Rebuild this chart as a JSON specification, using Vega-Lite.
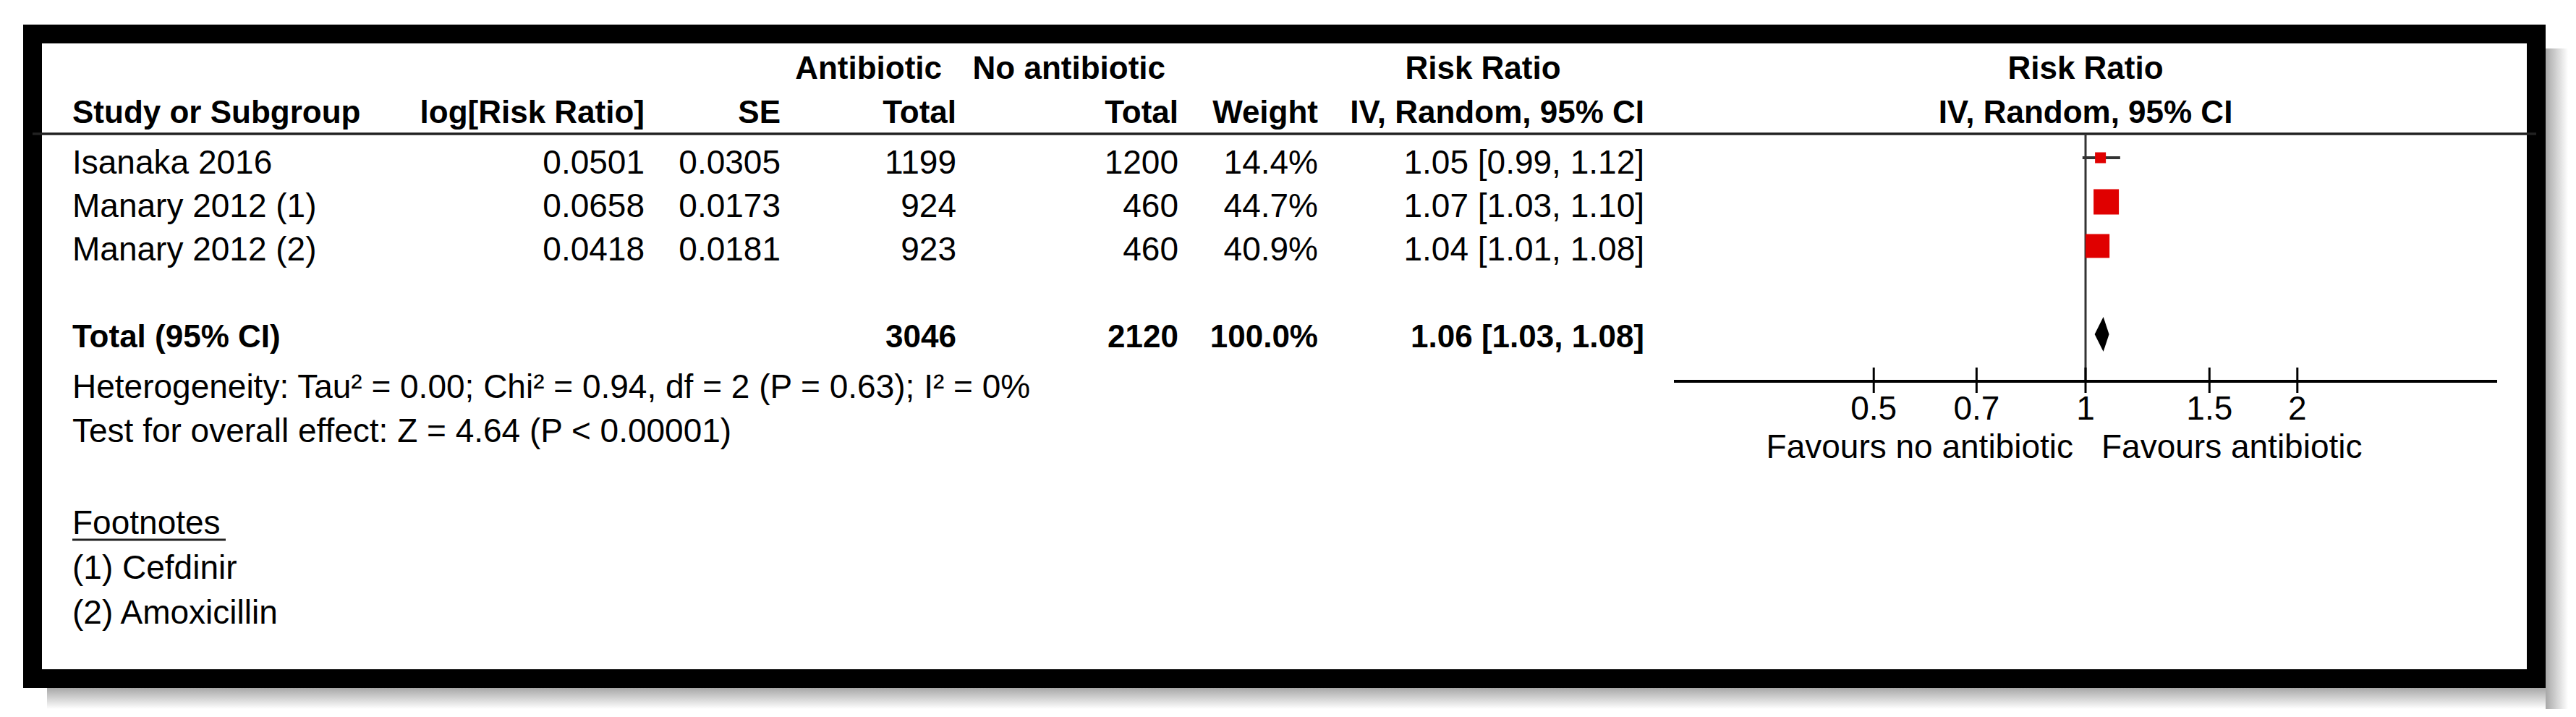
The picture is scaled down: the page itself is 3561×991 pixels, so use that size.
{
  "$schema": "https://vega.github.io/schema/vega-lite/v6.json",
  "width": 3461,
  "height": 891,
  "autosize": {"type": "none"},
  "padding": {"left": 45, "top": 47, "right": 55, "bottom": 53},
  "background": "white",
  "config": {
    "view": {"stroke": "black", "strokeWidth": 26},
    "font": "Liberation Sans",
    "text": {"font": "Liberation Sans", "fontSize": 46, "baseline": "alphabetic", "color": "black"}
  },
  "datasets": {
    "studies": [
      {"study": "Isanaka 2016", "log_rr": 0.0501, "se": 0.0305, "ab_total": 1199, "noab_total": 1200, "weight": 0.144, "rr": 1.05, "lo": 0.99, "hi": 1.12, "rr_ci": "1.05 [0.99, 1.12]"},
      {"study": "Manary 2012 (1)", "log_rr": 0.0658, "se": 0.0173, "ab_total": 924, "noab_total": 460, "weight": 0.447, "rr": 1.07, "lo": 1.03, "hi": 1.10, "rr_ci": "1.07 [1.03, 1.10]"},
      {"study": "Manary 2012 (2)", "log_rr": 0.0418, "se": 0.0181, "ab_total": 923, "noab_total": 460, "weight": 0.409, "rr": 1.04, "lo": 1.01, "hi": 1.08, "rr_ci": "1.04 [1.01, 1.08]"}
    ],
    "overall": [
      {"label": "Total (95% CI)", "ab_total": 3046, "noab_total": 2120, "weight": 1.0, "rr": 1.06, "lo": 1.03, "hi": 1.08, "rr_ci": "1.06 [1.03, 1.08]",
       "heterogeneity": "Heterogeneity: Tau² = 0.00; Chi² = 0.94, df = 2 (P = 0.63); I² = 0%",
       "overall_effect": "Test for overall effect: Z = 4.64 (P < 0.00001)"}
    ],
    "footnotes": [{"note": "(1) Cefdinir"}, {"note": "(2) Amoxicillin"}],
    "ticks": [{"value": 0.5}, {"value": 0.7}, {"value": 1}, {"value": 1.5}, {"value": 2}],
    "one": [{}]
  },
  "resolve": {"scale": {"x": "independent", "y": "independent", "size": "independent"}},
  "layer": [
    {"data": {"name": "one"}, "mark": {"type": "rect", "color": {"gradient": "linear", "x1": 0, "x2": 1, "y1": 0, "y2": 0, "stops": [{"offset": 0, "color": "#a8a8a8"}, {"offset": 1, "color": "#ffffff"}]}},
     "encoding": {"x": {"datum": 2, "type": "quantitative", "axis": null, "scale": {"type": "linear", "domain": [1,2,3], "range": [20,3474,3505], "nice": false, "zero": false}},
                  "x2": {"datum": 3},
                  "y": {"datum": 1, "type": "quantitative", "axis": null, "scale": {"type": "linear", "domain": [1,2,3], "range": [20,904,933], "nice": false, "zero": false}},
                  "y2": {"datum": 3}}},
    {"data": {"name": "one"}, "mark": {"type": "rect", "color": {"gradient": "linear", "x1": 0, "x2": 0, "y1": 0, "y2": 1, "stops": [{"offset": 0, "color": "#a8a8a8"}, {"offset": 1, "color": "#ffffff"}]}},
     "encoding": {"x": {"datum": 1, "type": "quantitative", "axis": null, "scale": {"type": "linear", "domain": [1,2,3], "range": [20,3474,3505], "nice": false, "zero": false}},
                  "x2": {"datum": 2},
                  "y": {"datum": 2, "type": "quantitative", "axis": null, "scale": {"type": "linear", "domain": [1,2,3], "range": [20,904,933], "nice": false, "zero": false}},
                  "y2": {"datum": 3}}},

    {"data": {"name": "one"}, "mark": {"type": "text", "text": "Antibiotic", "fontWeight": "bold", "fontSize": 44, "align": "right"},
     "encoding": {"x": {"datum": 5, "type": "quantitative", "axis": null, "scale": {"type": "linear", "domain": [1,2,3,4,5,6,7,8,9,10,11], "range": [55,267,846,1034,1257,1277,1566,1584,1777,2005,2228], "nice": false, "zero": false}},
                  "y": {"datum": 1, "type": "quantitative", "axis": null, "scale": {"type": "linear", "domain": [1,2,3,4,5,6,7,8,9,10,11,12], "range": [62,123,138,461,480,496,503,533,564,586,691,699], "nice": false, "zero": false}}}},
    {"data": {"name": "one"}, "mark": {"type": "text", "text": "No antibiotic", "fontWeight": "bold", "fontSize": 44, "align": "right"},
     "encoding": {"x": {"datum": 7, "type": "quantitative", "axis": null, "scale": {"type": "linear", "domain": [1,2,3,4,5,6,7,8,9,10,11], "range": [55,267,846,1034,1257,1277,1566,1584,1777,2005,2228], "nice": false, "zero": false}},
                  "y": {"datum": 1, "type": "quantitative", "axis": null, "scale": {"type": "linear", "domain": [1,2,3,4,5,6,7,8,9,10,11,12], "range": [62,123,138,461,480,496,503,533,564,586,691,699], "nice": false, "zero": false}}}},
    {"data": {"name": "one"}, "mark": {"type": "text", "text": "Risk Ratio", "fontWeight": "bold", "fontSize": 44, "align": "center"},
     "encoding": {"x": {"datum": 10, "type": "quantitative", "axis": null, "scale": {"type": "linear", "domain": [1,2,3,4,5,6,7,8,9,10,11], "range": [55,267,846,1034,1257,1277,1566,1584,1777,2005,2228], "nice": false, "zero": false}},
                  "y": {"datum": 1, "type": "quantitative", "axis": null, "scale": {"type": "linear", "domain": [1,2,3,4,5,6,7,8,9,10,11,12], "range": [62,123,138,461,480,496,503,533,564,586,691,699], "nice": false, "zero": false}}}},
    {"data": {"name": "one"}, "mark": {"type": "text", "text": "Study or Subgroup", "fontWeight": "bold", "fontSize": 44, "align": "left"},
     "encoding": {"x": {"datum": 1, "type": "quantitative", "axis": null, "scale": {"type": "linear", "domain": [1,2,3,4,5,6,7,8,9,10,11], "range": [55,267,846,1034,1257,1277,1566,1584,1777,2005,2228], "nice": false, "zero": false}},
                  "y": {"datum": 2, "type": "quantitative", "axis": null, "scale": {"type": "linear", "domain": [1,2,3,4,5,6,7,8,9,10,11,12], "range": [62,123,138,461,480,496,503,533,564,586,691,699], "nice": false, "zero": false}}}},
    {"data": {"name": "one"}, "mark": {"type": "text", "text": "log[Risk Ratio]", "fontWeight": "bold", "fontSize": 44, "align": "right"},
     "encoding": {"x": {"datum": 3, "type": "quantitative", "axis": null, "scale": {"type": "linear", "domain": [1,2,3,4,5,6,7,8,9,10,11], "range": [55,267,846,1034,1257,1277,1566,1584,1777,2005,2228], "nice": false, "zero": false}},
                  "y": {"datum": 2, "type": "quantitative", "axis": null, "scale": {"type": "linear", "domain": [1,2,3,4,5,6,7,8,9,10,11,12], "range": [62,123,138,461,480,496,503,533,564,586,691,699], "nice": false, "zero": false}}}},
    {"data": {"name": "one"}, "mark": {"type": "text", "text": "SE", "fontWeight": "bold", "fontSize": 44, "align": "right"},
     "encoding": {"x": {"datum": 4, "type": "quantitative", "axis": null, "scale": {"type": "linear", "domain": [1,2,3,4,5,6,7,8,9,10,11], "range": [55,267,846,1034,1257,1277,1566,1584,1777,2005,2228], "nice": false, "zero": false}},
                  "y": {"datum": 2, "type": "quantitative", "axis": null, "scale": {"type": "linear", "domain": [1,2,3,4,5,6,7,8,9,10,11,12], "range": [62,123,138,461,480,496,503,533,564,586,691,699], "nice": false, "zero": false}}}},
    {"data": {"name": "one"}, "mark": {"type": "text", "text": "Total", "fontWeight": "bold", "fontSize": 44, "align": "right"},
     "encoding": {"x": {"datum": 6, "type": "quantitative", "axis": null, "scale": {"type": "linear", "domain": [1,2,3,4,5,6,7,8,9,10,11], "range": [55,267,846,1034,1257,1277,1566,1584,1777,2005,2228], "nice": false, "zero": false}},
                  "y": {"datum": 2, "type": "quantitative", "axis": null, "scale": {"type": "linear", "domain": [1,2,3,4,5,6,7,8,9,10,11,12], "range": [62,123,138,461,480,496,503,533,564,586,691,699], "nice": false, "zero": false}}}},
    {"data": {"name": "one"}, "mark": {"type": "text", "text": "Total", "fontWeight": "bold", "fontSize": 44, "align": "right"},
     "encoding": {"x": {"datum": 8, "type": "quantitative", "axis": null, "scale": {"type": "linear", "domain": [1,2,3,4,5,6,7,8,9,10,11], "range": [55,267,846,1034,1257,1277,1566,1584,1777,2005,2228], "nice": false, "zero": false}},
                  "y": {"datum": 2, "type": "quantitative", "axis": null, "scale": {"type": "linear", "domain": [1,2,3,4,5,6,7,8,9,10,11,12], "range": [62,123,138,461,480,496,503,533,564,586,691,699], "nice": false, "zero": false}}}},
    {"data": {"name": "one"}, "mark": {"type": "text", "text": "Weight", "fontWeight": "bold", "fontSize": 44, "align": "right"},
     "encoding": {"x": {"datum": 9, "type": "quantitative", "axis": null, "scale": {"type": "linear", "domain": [1,2,3,4,5,6,7,8,9,10,11], "range": [55,267,846,1034,1257,1277,1566,1584,1777,2005,2228], "nice": false, "zero": false}},
                  "y": {"datum": 2, "type": "quantitative", "axis": null, "scale": {"type": "linear", "domain": [1,2,3,4,5,6,7,8,9,10,11,12], "range": [62,123,138,461,480,496,503,533,564,586,691,699], "nice": false, "zero": false}}}},
    {"data": {"name": "one"}, "mark": {"type": "text", "text": "IV, Random, 95% CI", "fontWeight": "bold", "fontSize": 44, "align": "right"},
     "encoding": {"x": {"datum": 11, "type": "quantitative", "axis": null, "scale": {"type": "linear", "domain": [1,2,3,4,5,6,7,8,9,10,11], "range": [55,267,846,1034,1257,1277,1566,1584,1777,2005,2228], "nice": false, "zero": false}},
                  "y": {"datum": 2, "type": "quantitative", "axis": null, "scale": {"type": "linear", "domain": [1,2,3,4,5,6,7,8,9,10,11,12], "range": [62,123,138,461,480,496,503,533,564,586,691,699], "nice": false, "zero": false}}}},
    {"data": {"name": "one"}, "mark": {"type": "text", "text": "Risk Ratio", "fontWeight": "bold", "fontSize": 44, "align": "center"},
     "encoding": {"x": {"datum": 1, "type": "quantitative", "axis": null, "scale": {"type": "log", "domain": [0.26, 3.846], "range": [2269, 3407], "nice": false}},
                  "y": {"datum": 1, "type": "quantitative", "axis": null, "scale": {"type": "linear", "domain": [1,2,3,4,5,6,7,8,9,10,11,12], "range": [62,123,138,461,480,496,503,533,564,586,691,699], "nice": false, "zero": false}}}},
    {"data": {"name": "one"}, "mark": {"type": "text", "text": "IV, Random, 95% CI", "fontWeight": "bold", "fontSize": 44, "align": "center"},
     "encoding": {"x": {"datum": 1, "type": "quantitative", "axis": null, "scale": {"type": "log", "domain": [0.26, 3.846], "range": [2269, 3407], "nice": false}},
                  "y": {"datum": 2, "type": "quantitative", "axis": null, "scale": {"type": "linear", "domain": [1,2,3,4,5,6,7,8,9,10,11,12], "range": [62,123,138,461,480,496,503,533,564,586,691,699], "nice": false, "zero": false}}}},
    {"data": {"name": "one"}, "mark": {"type": "rule", "color": "#222222", "strokeWidth": 3.5},
     "encoding": {"y": {"datum": 3, "type": "quantitative", "axis": null, "scale": {"type": "linear", "domain": [1,2,3,4,5,6,7,8,9,10,11,12], "range": [62,123,138,461,480,496,503,533,564,586,691,699], "nice": false, "zero": false}}}},

    {"data": {"name": "studies"}, "mark": {"type": "text", "align": "left"},
     "encoding": {"x": {"datum": 1, "type": "quantitative", "axis": null, "scale": {"type": "linear", "domain": [1,2,3,4,5,6,7,8,9,10,11], "range": [55,267,846,1034,1257,1277,1566,1584,1777,2005,2228], "nice": false, "zero": false}},
                  "y": {"field": "study", "type": "nominal", "axis": null, "scale": {"type": "point", "domain": ["Isanaka 2016", "Manary 2012 (1)", "Manary 2012 (2)", " ", "Total (95% CI)"], "range": [193, 433], "padding": 0}},
                  "text": {"field": "study", "type": "nominal"}}},
    {"data": {"name": "studies"}, "mark": {"type": "text", "align": "right"},
     "encoding": {"x": {"datum": 3, "type": "quantitative", "axis": null, "scale": {"type": "linear", "domain": [1,2,3,4,5,6,7,8,9,10,11], "range": [55,267,846,1034,1257,1277,1566,1584,1777,2005,2228], "nice": false, "zero": false}},
                  "y": {"field": "study", "type": "nominal", "axis": null, "scale": {"type": "point", "domain": ["Isanaka 2016", "Manary 2012 (1)", "Manary 2012 (2)", " ", "Total (95% CI)"], "range": [193, 433], "padding": 0}},
                  "text": {"field": "log_rr", "type": "quantitative", "format": ".4f"}}},
    {"data": {"name": "studies"}, "mark": {"type": "text", "align": "right"},
     "encoding": {"x": {"datum": 4, "type": "quantitative", "axis": null, "scale": {"type": "linear", "domain": [1,2,3,4,5,6,7,8,9,10,11], "range": [55,267,846,1034,1257,1277,1566,1584,1777,2005,2228], "nice": false, "zero": false}},
                  "y": {"field": "study", "type": "nominal", "axis": null, "scale": {"type": "point", "domain": ["Isanaka 2016", "Manary 2012 (1)", "Manary 2012 (2)", " ", "Total (95% CI)"], "range": [193, 433], "padding": 0}},
                  "text": {"field": "se", "type": "quantitative", "format": ".4f"}}},
    {"data": {"name": "studies"}, "mark": {"type": "text", "align": "right"},
     "encoding": {"x": {"datum": 6, "type": "quantitative", "axis": null, "scale": {"type": "linear", "domain": [1,2,3,4,5,6,7,8,9,10,11], "range": [55,267,846,1034,1257,1277,1566,1584,1777,2005,2228], "nice": false, "zero": false}},
                  "y": {"field": "study", "type": "nominal", "axis": null, "scale": {"type": "point", "domain": ["Isanaka 2016", "Manary 2012 (1)", "Manary 2012 (2)", " ", "Total (95% CI)"], "range": [193, 433], "padding": 0}},
                  "text": {"field": "ab_total", "type": "nominal"}}},
    {"data": {"name": "studies"}, "mark": {"type": "text", "align": "right"},
     "encoding": {"x": {"datum": 8, "type": "quantitative", "axis": null, "scale": {"type": "linear", "domain": [1,2,3,4,5,6,7,8,9,10,11], "range": [55,267,846,1034,1257,1277,1566,1584,1777,2005,2228], "nice": false, "zero": false}},
                  "y": {"field": "study", "type": "nominal", "axis": null, "scale": {"type": "point", "domain": ["Isanaka 2016", "Manary 2012 (1)", "Manary 2012 (2)", " ", "Total (95% CI)"], "range": [193, 433], "padding": 0}},
                  "text": {"field": "noab_total", "type": "nominal"}}},
    {"data": {"name": "studies"}, "mark": {"type": "text", "align": "right"},
     "encoding": {"x": {"datum": 9, "type": "quantitative", "axis": null, "scale": {"type": "linear", "domain": [1,2,3,4,5,6,7,8,9,10,11], "range": [55,267,846,1034,1257,1277,1566,1584,1777,2005,2228], "nice": false, "zero": false}},
                  "y": {"field": "study", "type": "nominal", "axis": null, "scale": {"type": "point", "domain": ["Isanaka 2016", "Manary 2012 (1)", "Manary 2012 (2)", " ", "Total (95% CI)"], "range": [193, 433], "padding": 0}},
                  "text": {"field": "weight", "type": "quantitative", "format": ".1%"}}},
    {"data": {"name": "studies"}, "mark": {"type": "text", "align": "right"},
     "encoding": {"x": {"datum": 11, "type": "quantitative", "axis": null, "scale": {"type": "linear", "domain": [1,2,3,4,5,6,7,8,9,10,11], "range": [55,267,846,1034,1257,1277,1566,1584,1777,2005,2228], "nice": false, "zero": false}},
                  "y": {"field": "study", "type": "nominal", "axis": null, "scale": {"type": "point", "domain": ["Isanaka 2016", "Manary 2012 (1)", "Manary 2012 (2)", " ", "Total (95% CI)"], "range": [193, 433], "padding": 0}},
                  "text": {"field": "rr_ci", "type": "nominal"}}},

    {"data": {"name": "overall"}, "mark": {"type": "text", "align": "left", "fontWeight": "bold", "fontSize": 44},
     "encoding": {"x": {"datum": 1, "type": "quantitative", "axis": null, "scale": {"type": "linear", "domain": [1,2,3,4,5,6,7,8,9,10,11], "range": [55,267,846,1034,1257,1277,1566,1584,1777,2005,2228], "nice": false, "zero": false}},
                  "y": {"field": "label", "type": "nominal", "axis": null, "scale": {"type": "point", "domain": ["Isanaka 2016", "Manary 2012 (1)", "Manary 2012 (2)", " ", "Total (95% CI)"], "range": [193, 433], "padding": 0}},
                  "text": {"field": "label", "type": "nominal"}}},
    {"data": {"name": "overall"}, "mark": {"type": "text", "align": "right", "fontWeight": "bold", "fontSize": 44},
     "encoding": {"x": {"datum": 6, "type": "quantitative", "axis": null, "scale": {"type": "linear", "domain": [1,2,3,4,5,6,7,8,9,10,11], "range": [55,267,846,1034,1257,1277,1566,1584,1777,2005,2228], "nice": false, "zero": false}},
                  "y": {"field": "label", "type": "nominal", "axis": null, "scale": {"type": "point", "domain": ["Isanaka 2016", "Manary 2012 (1)", "Manary 2012 (2)", " ", "Total (95% CI)"], "range": [193, 433], "padding": 0}},
                  "text": {"field": "ab_total", "type": "nominal"}}},
    {"data": {"name": "overall"}, "mark": {"type": "text", "align": "right", "fontWeight": "bold", "fontSize": 44},
     "encoding": {"x": {"datum": 8, "type": "quantitative", "axis": null, "scale": {"type": "linear", "domain": [1,2,3,4,5,6,7,8,9,10,11], "range": [55,267,846,1034,1257,1277,1566,1584,1777,2005,2228], "nice": false, "zero": false}},
                  "y": {"field": "label", "type": "nominal", "axis": null, "scale": {"type": "point", "domain": ["Isanaka 2016", "Manary 2012 (1)", "Manary 2012 (2)", " ", "Total (95% CI)"], "range": [193, 433], "padding": 0}},
                  "text": {"field": "noab_total", "type": "nominal"}}},
    {"data": {"name": "overall"}, "mark": {"type": "text", "align": "right", "fontWeight": "bold", "fontSize": 44},
     "encoding": {"x": {"datum": 9, "type": "quantitative", "axis": null, "scale": {"type": "linear", "domain": [1,2,3,4,5,6,7,8,9,10,11], "range": [55,267,846,1034,1257,1277,1566,1584,1777,2005,2228], "nice": false, "zero": false}},
                  "y": {"field": "label", "type": "nominal", "axis": null, "scale": {"type": "point", "domain": ["Isanaka 2016", "Manary 2012 (1)", "Manary 2012 (2)", " ", "Total (95% CI)"], "range": [193, 433], "padding": 0}},
                  "text": {"field": "weight", "type": "quantitative", "format": ".1%"}}},
    {"data": {"name": "overall"}, "mark": {"type": "text", "align": "right", "fontWeight": "bold", "fontSize": 44},
     "encoding": {"x": {"datum": 11, "type": "quantitative", "axis": null, "scale": {"type": "linear", "domain": [1,2,3,4,5,6,7,8,9,10,11], "range": [55,267,846,1034,1257,1277,1566,1584,1777,2005,2228], "nice": false, "zero": false}},
                  "y": {"field": "label", "type": "nominal", "axis": null, "scale": {"type": "point", "domain": ["Isanaka 2016", "Manary 2012 (1)", "Manary 2012 (2)", " ", "Total (95% CI)"], "range": [193, 433], "padding": 0}},
                  "text": {"field": "rr_ci", "type": "nominal"}}},
    {"data": {"name": "overall"}, "mark": {"type": "text", "align": "left"},
     "encoding": {"x": {"datum": 1, "type": "quantitative", "axis": null, "scale": {"type": "linear", "domain": [1,2,3,4,5,6,7,8,9,10,11], "range": [55,267,846,1034,1257,1277,1566,1584,1777,2005,2228], "nice": false, "zero": false}},
                  "y": {"datum": 7, "type": "quantitative", "axis": null, "scale": {"type": "linear", "domain": [1,2,3,4,5,6,7,8,9,10,11,12], "range": [62,123,138,461,480,496,503,533,564,586,691,699], "nice": false, "zero": false}},
                  "text": {"field": "heterogeneity", "type": "nominal"}}},
    {"data": {"name": "overall"}, "mark": {"type": "text", "align": "left"},
     "encoding": {"x": {"datum": 1, "type": "quantitative", "axis": null, "scale": {"type": "linear", "domain": [1,2,3,4,5,6,7,8,9,10,11], "range": [55,267,846,1034,1257,1277,1566,1584,1777,2005,2228], "nice": false, "zero": false}},
                  "y": {"datum": 9, "type": "quantitative", "axis": null, "scale": {"type": "linear", "domain": [1,2,3,4,5,6,7,8,9,10,11,12], "range": [62,123,138,461,480,496,503,533,564,586,691,699], "nice": false, "zero": false}},
                  "text": {"field": "overall_effect", "type": "nominal"}}},

    {"data": {"name": "one"}, "mark": {"type": "text", "text": "Footnotes", "align": "left"},
     "encoding": {"x": {"datum": 1, "type": "quantitative", "axis": null, "scale": {"type": "linear", "domain": [1,2,3,4,5,6,7,8,9,10,11], "range": [55,267,846,1034,1257,1277,1566,1584,1777,2005,2228], "nice": false, "zero": false}},
                  "y": {"datum": 11, "type": "quantitative", "axis": null, "scale": {"type": "linear", "domain": [1,2,3,4,5,6,7,8,9,10,11,12], "range": [62,123,138,461,480,496,503,533,564,586,691,699], "nice": false, "zero": false}}}},
    {"data": {"name": "one"}, "mark": {"type": "rule", "color": "#222222", "strokeWidth": 3},
     "encoding": {"x": {"datum": 1, "type": "quantitative", "axis": null, "scale": {"type": "linear", "domain": [1,2,3,4,5,6,7,8,9,10,11], "range": [55,267,846,1034,1257,1277,1566,1584,1777,2005,2228], "nice": false, "zero": false}},
                  "x2": {"datum": 2},
                  "y": {"datum": 12, "type": "quantitative", "axis": null, "scale": {"type": "linear", "domain": [1,2,3,4,5,6,7,8,9,10,11,12], "range": [62,123,138,461,480,496,503,533,564,586,691,699], "nice": false, "zero": false}}}},
    {"data": {"name": "footnotes"}, "mark": {"type": "text", "align": "left"},
     "encoding": {"x": {"datum": 1, "type": "quantitative", "axis": null, "scale": {"type": "linear", "domain": [1,2,3,4,5,6,7,8,9,10,11], "range": [55,267,846,1034,1257,1277,1566,1584,1777,2005,2228], "nice": false, "zero": false}},
                  "y": {"field": "note", "type": "nominal", "axis": null, "scale": {"type": "point", "domain": ["(1) Cefdinir", "(2) Amoxicillin"], "range": [753, 815], "padding": 0}},
                  "text": {"field": "note", "type": "nominal"}}},

    {"data": {"name": "one"}, "mark": {"type": "rule", "color": "#333333", "strokeWidth": 3},
     "encoding": {"x": {"datum": 1, "type": "quantitative", "axis": null, "scale": {"type": "log", "domain": [0.26, 3.846], "range": [2269, 3407], "nice": false}},
                  "y": {"datum": 3, "type": "quantitative", "axis": null, "scale": {"type": "linear", "domain": [1,2,3,4,5,6,7,8,9,10,11,12], "range": [62,123,138,461,480,496,503,533,564,586,691,699], "nice": false, "zero": false}},
                  "y2": {"datum": 5}}},
    {"data": {"name": "one"}, "mark": {"type": "rule", "color": "black", "strokeWidth": 4},
     "encoding": {"x": {"datum": 0.26, "type": "quantitative", "axis": null, "scale": {"type": "log", "domain": [0.26, 3.846], "range": [2269, 3407], "nice": false}},
                  "x2": {"datum": 3.846},
                  "y": {"datum": 5, "type": "quantitative", "axis": null, "scale": {"type": "linear", "domain": [1,2,3,4,5,6,7,8,9,10,11,12], "range": [62,123,138,461,480,496,503,533,564,586,691,699], "nice": false, "zero": false}}}},
    {"data": {"name": "ticks"}, "mark": {"type": "rule", "color": "black", "strokeWidth": 3},
     "encoding": {"x": {"field": "value", "type": "quantitative", "axis": null, "scale": {"type": "log", "domain": [0.26, 3.846], "range": [2269, 3407], "nice": false}},
                  "y": {"datum": 4, "type": "quantitative", "axis": null, "scale": {"type": "linear", "domain": [1,2,3,4,5,6,7,8,9,10,11,12], "range": [62,123,138,461,480,496,503,533,564,586,691,699], "nice": false, "zero": false}},
                  "y2": {"datum": 6}}},
    {"data": {"name": "ticks"}, "mark": {"type": "text", "align": "center"},
     "encoding": {"x": {"field": "value", "type": "quantitative", "axis": null, "scale": {"type": "log", "domain": [0.26, 3.846], "range": [2269, 3407], "nice": false}},
                  "y": {"datum": 8, "type": "quantitative", "axis": null, "scale": {"type": "linear", "domain": [1,2,3,4,5,6,7,8,9,10,11,12], "range": [62,123,138,461,480,496,503,533,564,586,691,699], "nice": false, "zero": false}},
                  "text": {"field": "value", "type": "nominal"}}},
    {"data": {"name": "one"}, "mark": {"type": "text", "text": "Favours no antibiotic", "align": "right", "dx": -17},
     "encoding": {"x": {"datum": 1, "type": "quantitative", "axis": null, "scale": {"type": "log", "domain": [0.26, 3.846], "range": [2269, 3407], "nice": false}},
                  "y": {"datum": 10, "type": "quantitative", "axis": null, "scale": {"type": "linear", "domain": [1,2,3,4,5,6,7,8,9,10,11,12], "range": [62,123,138,461,480,496,503,533,564,586,691,699], "nice": false, "zero": false}}}},
    {"data": {"name": "one"}, "mark": {"type": "text", "text": "Favours antibiotic", "align": "left", "dx": 22},
     "encoding": {"x": {"datum": 1, "type": "quantitative", "axis": null, "scale": {"type": "log", "domain": [0.26, 3.846], "range": [2269, 3407], "nice": false}},
                  "y": {"datum": 10, "type": "quantitative", "axis": null, "scale": {"type": "linear", "domain": [1,2,3,4,5,6,7,8,9,10,11,12], "range": [62,123,138,461,480,496,503,533,564,586,691,699], "nice": false, "zero": false}}}},
    {"data": {"name": "studies"}, "mark": {"type": "rule", "color": "#333333", "strokeWidth": 4},
     "encoding": {"x": {"field": "lo", "type": "quantitative", "axis": null, "scale": {"type": "log", "domain": [0.26, 3.846], "range": [2269, 3407], "nice": false}},
                  "x2": {"field": "hi"},
                  "y": {"field": "study", "type": "nominal", "axis": null, "scale": {"type": "point", "domain": ["Isanaka 2016", "Manary 2012 (1)", "Manary 2012 (2)", " ", "Total (95% CI)"], "range": [171, 415], "padding": 0}}}},
    {"data": {"name": "studies"}, "mark": {"type": "point", "shape": "square", "filled": true, "color": "#e00000", "opacity": 1},
     "encoding": {"x": {"field": "rr", "type": "quantitative", "axis": null, "scale": {"type": "log", "domain": [0.26, 3.846], "range": [2269, 3407], "nice": false}},
                  "y": {"field": "study", "type": "nominal", "axis": null, "scale": {"type": "point", "domain": ["Isanaka 2016", "Manary 2012 (1)", "Manary 2012 (2)", " ", "Total (95% CI)"], "range": [171, 415], "padding": 0}},
                  "size": {"field": "weight", "type": "quantitative", "legend": null, "scale": {"domain": [0.144, 0.447], "range": [225, 1225], "zero": false}}}},
    {"data": {"name": "overall"}, "mark": {"type": "point", "shape": "M-0.5,0L0,-1L0.33,0L0,1Z", "size": 2304, "filled": true, "color": "black", "opacity": 1},
     "encoding": {"x": {"field": "rr", "type": "quantitative", "axis": null, "scale": {"type": "log", "domain": [0.26, 3.846], "range": [2269, 3407], "nice": false}},
                  "y": {"field": "label", "type": "nominal", "axis": null, "scale": {"type": "point", "domain": ["Isanaka 2016", "Manary 2012 (1)", "Manary 2012 (2)", " ", "Total (95% CI)"], "range": [171, 415], "padding": 0}}}}
  ]
}
